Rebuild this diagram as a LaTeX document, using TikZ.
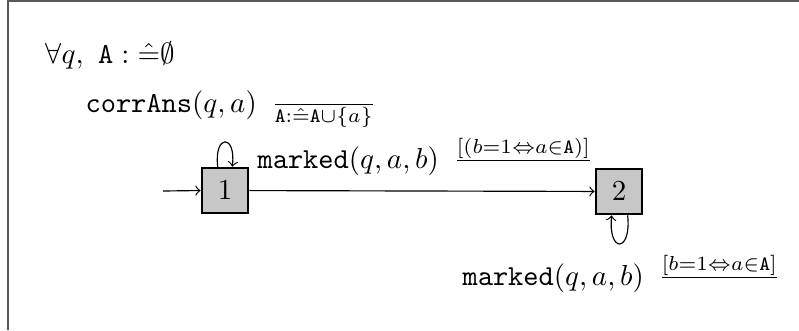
\documentclass[tikz,border=0pt]{standalone}
\usepackage{amsmath,amssymb}
\begin{document}
\begin{tikzpicture}[x=0.345pt,y=-0.345pt,
  state/.style={draw,line width=0.9pt,fill=black!22,minimum width=15.9pt,minimum height=15.5pt,inner sep=0pt},
  lab/.style={anchor=base west,inner sep=0pt},
  frameline/.style={draw=black!65,line width=0.7pt}]
\useasboundingbox (0,0) rectangle (799,330);
\draw[frameline] (8,330) -- (8,1) -- (799,1);
\node[state] (n1) at (225,190.5) {$1$};
\node[state] (n2) at (619,191.5) {$2$};
\coordinate (start) at (163,191);
\draw[->] (start) -- (n1.west);
\draw[->] (n1) -- (n2);
\draw[->] (n1.107) .. controls +(-4,-33) and +(4,-33) .. (n1.73);
\draw[->] (n2.-70) .. controls +(4,38) and +(-4,38) .. (n2.-107);
\node[lab] (t0) at (45,63) {$\forall q,\ \mathtt{A} : \hat{=}\emptyset$};
\node[lab] (t1) at (85,112) {$\mathtt{corrAns}(q,a)\ \,\frac{}{\mathtt{A}:\hat{=}\mathtt{A}\cup\{a\}}$};
\node[lab] (t2) at (257,168) {$\mathtt{marked}(q,a,b)\ \,\frac{[(b=1\Leftrightarrow a\in\mathtt{A})]}{}$};
\node[lab] (t3) at (462,285) {$\mathtt{marked}(q,a,b)\ \,\frac{[b=1\Leftrightarrow a\in\mathtt{A}]}{}$};
\end{tikzpicture}
\end{document}
